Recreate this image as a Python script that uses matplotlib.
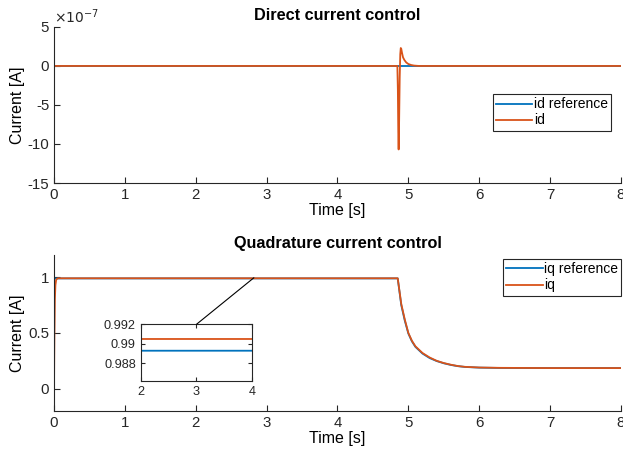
import matplotlib
matplotlib.use("Agg")
import matplotlib.pyplot as plt
from matplotlib.patches import ConnectionPatch
from matplotlib.ticker import FuncFormatter

# --- data ---
# direct current (values in A)
t_id_ref = [0.0, 8.0]
id_ref = [0.0, 0.0]
t_id = [0.0, 4.845, 4.852, 4.858, 4.863, 4.870, 4.878, 4.886, 4.893, 4.900,
        4.910, 4.925, 4.945, 4.970, 5.000, 5.040, 5.080, 5.150, 8.0]
id_meas = [0.0, 0.0, -3.0e-7, -8.5e-7, -10.7e-7, -7.0e-7, -1.5e-7, 1.5e-7, 2.3e-7, 2.2e-7,
           1.7e-7, 1.1e-7, 0.75e-7, 0.45e-7, 0.25e-7, 0.12e-7, 0.05e-7, 0.0, 0.0]

# quadrature current (values in A)
t_iq_ref = [0.0, 0.004, 0.01, 4.85, 4.90, 4.95, 5.00, 5.05, 5.10, 5.20, 5.30, 5.40,
            5.50, 5.60, 5.70, 5.80, 6.00, 6.30, 7.00, 8.00]
iq_ref = [0.0, 0.9893, 0.9893, 0.9893, 0.75, 0.61, 0.495, 0.425, 0.375, 0.315, 0.275, 0.248,
          0.228, 0.213, 0.202, 0.195, 0.189, 0.186, 0.185, 0.185]
t_iq = [0.0, 0.005, 0.012, 0.02, 0.03, 0.045, 0.06, 4.85, 4.90, 4.95, 5.00, 5.05, 5.10,
        5.20, 5.30, 5.40, 5.50, 5.60, 5.70, 5.80, 6.00, 6.30, 7.00, 8.00]
iq_meas = [0.0, 0.45, 0.80, 0.93, 0.975, 0.988, 0.9905, 0.9905, 0.76, 0.62, 0.50, 0.43, 0.38,
           0.32, 0.28, 0.25, 0.23, 0.215, 0.203, 0.196, 0.19, 0.187, 0.185, 0.185]

BLUE = "#0072BD"
ORANGE = "#D95319"
DARK = "#262626"

plt.rcParams["font.family"] = ["Liberation Sans", "DejaVu Sans"]
plt.rcParams["axes.unicode_minus"] = False
plt.rcParams["font.size"] = 10.5


def style_axes(ax, box=False):
    for side in ("top", "right"):
        ax.spines[side].set_visible(box)
    for sp in ax.spines.values():
        sp.set_color(DARK)
        sp.set_linewidth(0.8)
    ax.tick_params(direction="in", length=4, width=0.8, colors=DARK,
                   top=box, right=box, labelsize=10.8)


fig = plt.figure(figsize=(6.23, 4.59), dpi=100)

# ---- top: direct current ----
ax1 = fig.add_axes([0.0867, 0.6013, 0.910, 0.340])
ax1.plot(t_id_ref, id_ref, color=BLUE, lw=1.3, label="id reference")
ax1.plot(t_id, id_meas, color=ORANGE, lw=1.3, label="id")
ax1.set_xlim(0, 8)
ax1.set_ylim(-15e-7, 5e-7)
ax1.set_yticks([-15e-7, -10e-7, -5e-7, 0, 5e-7])
ax1.yaxis.set_major_formatter(FuncFormatter(lambda v, p: f"{round(v / 1e-7):d}"))
ax1.set_xticks(range(9))
style_axes(ax1)
ax1.text(0.0, 1.005, r"$\times10^{-7}$", transform=ax1.transAxes, ha="left", va="bottom",
         fontsize=10, color=DARK)
ax1.set_title("Direct current control", fontsize=11.7, fontweight="bold", pad=5)
ax1.set_xlabel("Time [s]", fontsize=11.5, labelpad=1)
ax1.set_ylabel("Current [A]", fontsize=11.5, labelpad=2)
leg1 = ax1.legend(loc="upper left", bbox_to_anchor=(0.774, 0.571), fancybox=False,
                  edgecolor=DARK, framealpha=1, handlelength=2.6, handletextpad=0.1,
                  borderpad=0.25, labelspacing=0.15, borderaxespad=0, fontsize=10)
leg1.get_frame().set_linewidth(0.8)

# ---- bottom: quadrature current ----
ax2 = fig.add_axes([0.0867, 0.1046, 0.910, 0.340])
ax2.plot(t_iq_ref, iq_ref, color=BLUE, lw=1.3, label="iq reference")
ax2.plot(t_iq, iq_meas, color=ORANGE, lw=1.3, label="iq")
ax2.set_xlim(0, 8)
ax2.set_ylim(-0.2, 1.2)
ax2.set_yticks([0, 0.5, 1])
ax2.yaxis.set_major_formatter(FuncFormatter(lambda v, p: f"{v:g}"))
ax2.set_xticks(range(9))
style_axes(ax2)
ax2.set_title("Quadrature current control", fontsize=11.7, fontweight="bold", pad=5)
ax2.set_xlabel("Time [s]", fontsize=11.5, labelpad=1)
ax2.set_ylabel("Current [A]", fontsize=11.5, labelpad=2)
leg2 = ax2.legend(loc="upper left", bbox_to_anchor=(0.792, 0.975), fancybox=False,
                  edgecolor=DARK, framealpha=1, handlelength=2.6, handletextpad=0.1,
                  borderpad=0.25, labelspacing=0.15, borderaxespad=0, fontsize=10)
leg2.get_frame().set_linewidth(0.8)

# ---- inset zoom ----
axin = fig.add_axes([0.2258, 0.1699, 0.1791, 0.1235])
axin.plot(t_iq_ref, iq_ref, color=BLUE, lw=1.3)
axin.plot(t_iq, iq_meas, color=ORANGE, lw=1.3)
axin.set_xlim(2, 4)
axin.set_ylim(0.9862, 0.992)
axin.set_xticks([2, 3, 4])
axin.set_yticks([0.988, 0.99, 0.992])
axin.yaxis.set_major_formatter(FuncFormatter(lambda v, p: f"{v:g}"))
style_axes(axin, box=True)
axin.tick_params(labelsize=9.2, length=3)

con = ConnectionPatch(xyA=(3, 0.992), coordsA=axin.transData,
                      xyB=(2.82, 0.995), coordsB=ax2.transData,
                      color="black", lw=0.8)
fig.add_artist(con)

fig.savefig("out.png", dpi=100)
